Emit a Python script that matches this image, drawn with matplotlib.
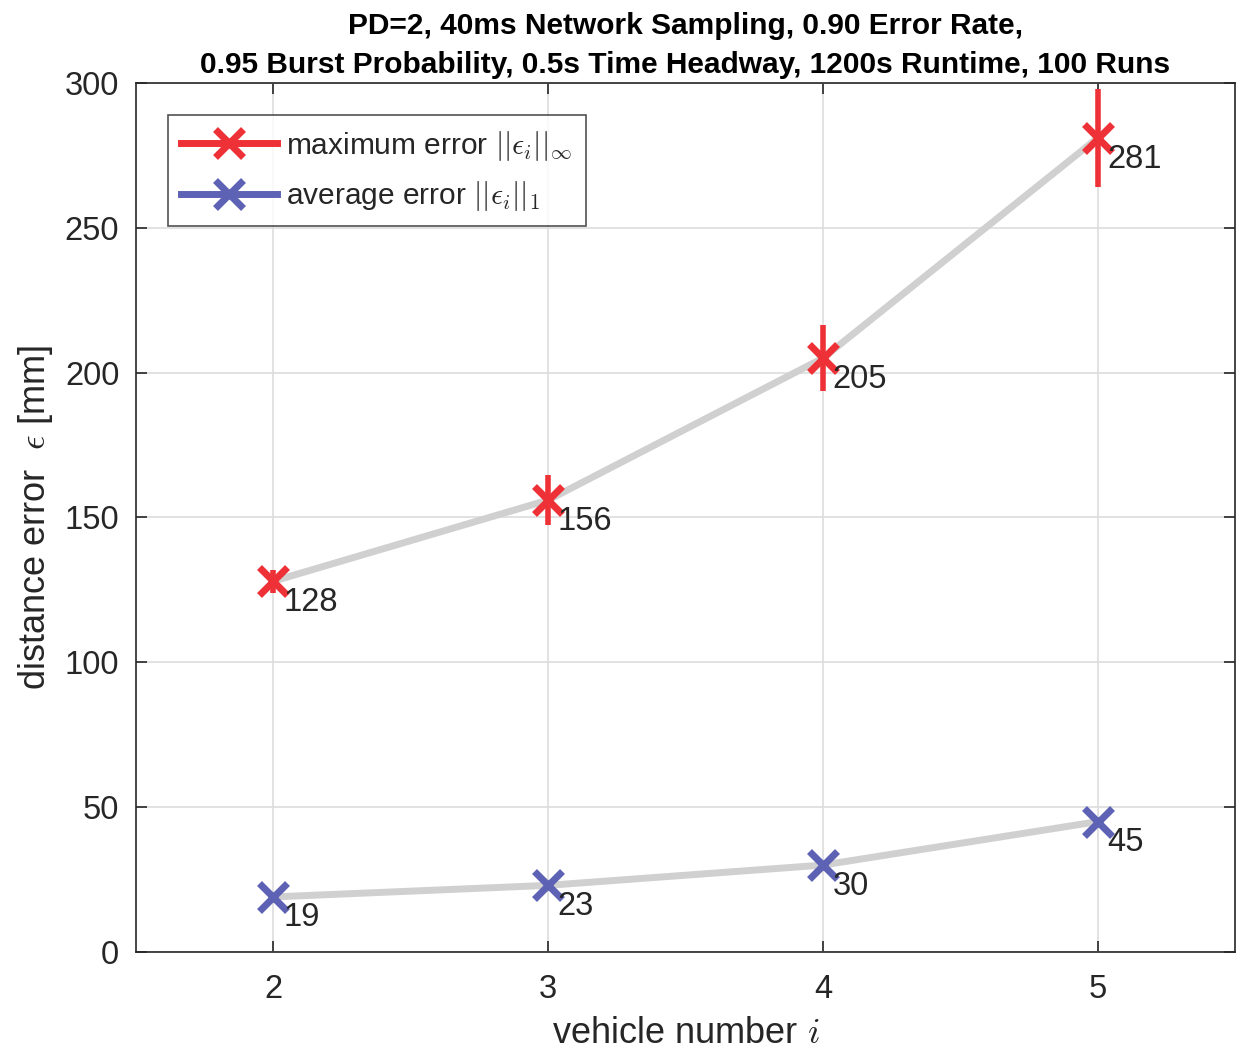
import numpy as np
import matplotlib
matplotlib.use("Agg")
import matplotlib.pyplot as plt
from matplotlib.lines import Line2D

# data
vehicles = [2, 3, 4, 5]
max_err = [128, 156, 205, 281]
max_err_spread = [4, 8.5, 11.5, 17]
avg_err = [19, 23, 30, 45]
avg_err_spread = [0, 0, 0, 0]

red = "#EE3136"
blue = "#5E62B4"
grey = "#D0D0D0"

plt.rcParams["font.family"] = ["Liberation Sans", "DejaVu Sans"]
plt.rcParams["mathtext.fontset"] = "cm"

fig = plt.figure(figsize=(12.43, 10.54), dpi=100)
ax = fig.add_axes([0.1094, 0.0968, 0.8842, 0.8245])

for vals, spread, col in [(max_err, max_err_spread, red), (avg_err, avg_err_spread, blue)]:
    ax.plot(vehicles, vals, color=grey, lw=5, zorder=2, solid_capstyle="round")
    ax.errorbar(vehicles, vals, yerr=spread, fmt="none", ecolor=col, elinewidth=4, capsize=0, zorder=3)
    ax.plot(vehicles, vals, "x", color=col, ms=20, mew=5, zorder=4)
    for xv, yv in zip(vehicles, vals):
        ax.annotate(str(yv), (xv, yv), xytext=(7, -4), textcoords="offset points",
                    ha="left", va="top", fontsize=23.5, color="#262626", zorder=5)

ax.set_xlim(1.5, 5.5)
ax.set_ylim(0, 300)
ax.set_xticks(vehicles)
ax.set_yticks(np.arange(0, 301, 50))
ax.tick_params(labelsize=23.5, colors="#262626", direction="in", length=8, width=1.2)
ax.tick_params(axis="x", pad=16)
ax.tick_params(axis="y", pad=12)
ax.tick_params(top=True, right=True)
ax.grid(True, color="#DDDDDD", lw=1.2)
ax.set_axisbelow(True)
for s in ax.spines.values():
    s.set_color("#262626")
    s.set_linewidth(1.2)

ax.set_xlabel("vehicle number $i$", fontsize=26, color="#262626", labelpad=8)
ax.set_ylabel(r"distance error  $\epsilon$ [mm]", fontsize=26, color="#262626")
ax.yaxis.set_label_coords(-0.074, 0.5)
ax.set_title("PD=2, 40ms Network Sampling, 0.90 Error Rate,\n"
             "0.95 Burst Probability, 0.5s Time Headway, 1200s Runtime, 100 Runs",
             fontsize=21.5, fontweight="bold", color="#000000", pad=7, linespacing=1.5)

handles = [
    Line2D([], [], color=red, lw=5, marker="x", ms=20, mew=5),
    Line2D([], [], color=blue, lw=5, marker="x", ms=20, mew=5),
]
labels = [r"maximum error $||\epsilon_i||_\infty$", r"average error $||\epsilon_i||_1$"]
leg = ax.legend(handles, labels, loc="upper left", bbox_to_anchor=(0.029, 0.963),
                borderaxespad=0, fontsize=21.5, frameon=True, fancybox=False,
                edgecolor="#262626", handlelength=3.2, borderpad=0.45,
                labelspacing=0.55, handletextpad=0.3)
leg.get_frame().set_linewidth(1.2)
for t in leg.get_texts():
    t.set_color("#262626")

fig.savefig("out.png", dpi=100)
